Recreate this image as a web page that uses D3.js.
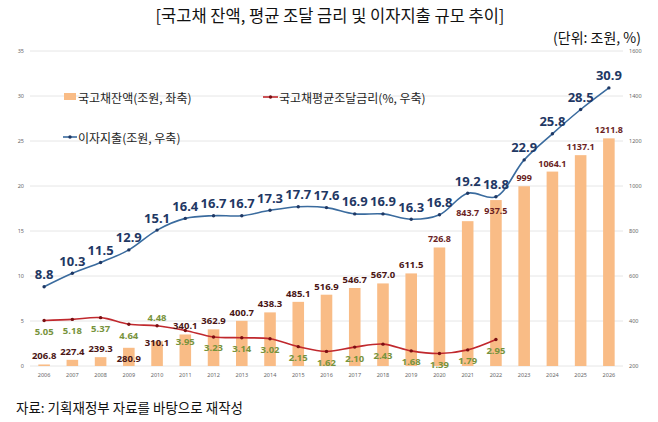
<!DOCTYPE html>
<html><head><meta charset="utf-8">
<script src="https://cdn.jsdelivr.net/npm/d3@7"></script>
<style>
html,body{margin:0;padding:0;background:#fff;}
svg{display:block;}
</style></head>
<body>
<svg id="c" width="658" height="422"></svg>
<script>
// ---- data ----
const years = ["2006","2007","2008","2009","2010","2011","2012","2013","2014","2015","2016","2017","2018","2019","2020","2021","2022","2023","2024","2025","2026"];
const balance = [206.8,227.4,239.3,280.9,310.1,340.1,362.9,400.7,438.3,485.1,516.9,546.7,567.0,611.5,726.8,843.7,937.5,999,1064.1,1137.1,1211.8];
const balanceText = ["206.8","227.4","239.3","280.9","310.1","340.1","362.9","400.7","438.3","485.1","516.9","546.7","567.0","611.5","726.8","843.7","937.5","999","1064.1","1137.1","1211.8"];
const rateYears = years.slice(0,17);
const rate = [5.05,5.18,5.37,4.64,4.48,3.95,3.23,3.14,3.02,2.15,1.62,2.10,2.43,1.68,1.39,1.79,2.95];
const interest = [8.8,10.3,11.5,12.9,15.1,16.4,16.7,16.7,17.3,17.7,17.6,16.9,16.9,16.3,16.8,19.2,18.8,22.9,25.8,28.5,30.9];
const leftTicks = [0,5,10,15,20,25,30,35];
const rightTicks = [200,400,600,800,1000,1200,1400,1600];
// label placement codes (not coordinates)
const balanceLabelPlace = ["a","a","a","in","mid","a","a","a","a","a","a","a","a","a","a","a","in","a","a","a","a"];
const rateLabelPlace = ["b","b","b","b","a","b","b","b","b","b","b","b","b","b","b","b","b"];

const title = "[국고채 잔액, 평균 조달 금리 및 이자지출 규모 추이]";
const unitText = "(단위: 조원, %)";
const sourceText = "자료: 기획재정부 자료를 바탕으로 재작성";
const legendNames = ["국고채잔액(조원, 좌축)","국고채평균조달금리(%, 우축)","이자지출(조원, 우축)"];

// ---- layout ----
const svg = d3.select("#c");
const L = 30, R = 623, T = 51, B = 366;
const x = d3.scaleBand().domain(years).range([L,R]).paddingInner(0.59).paddingOuter(0.295);
const cx = d => x(d) + x.bandwidth()/2;
const yL = d3.scaleLinear().domain([0,35]).range([B,T]);
const yR = d3.scaleLinear().domain([200,1600]).range([B,T]);

const KR = "'Noto Sans CJK KR','Noto Sans',sans-serif";
const NUM = "'Noto Sans','DejaVu Sans',sans-serif";

// title
svg.append("text").attr("x",330).attr("y",15).attr("text-anchor","middle")
  .attr("dominant-baseline","central").style("font-family",KR).style("font-size","16.5px")
  .style("font-weight","normal").attr("fill","#111").text(title);
svg.append("text").attr("x",641).attr("y",37).attr("text-anchor","end")
  .attr("dominant-baseline","central").style("font-family",KR).style("font-size","14px")
  .attr("fill","#111").text(unitText);
svg.append("text").attr("x",16).attr("y",407).attr("dominant-baseline","central")
  .style("font-family",KR).style("font-size","13.5px").attr("fill","#111").text(sourceText);

// grid
svg.append("g").selectAll("line").data(leftTicks).join("line")
  .attr("x1",L).attr("x2",R).attr("y1",d=>yL(d)).attr("y2",d=>yL(d))
  .attr("stroke","#E6E6E6").attr("stroke-width",1);

// axes
const ga = svg.append("g").attr("transform",`translate(${L},0)`)
  .call(d3.axisLeft(yL).tickValues(leftTicks).tickSize(0).tickPadding(6));
const gb = svg.append("g").attr("transform",`translate(${R},0)`)
  .call(d3.axisRight(yR).tickValues(rightTicks).tickFormat(d3.format("d")).tickSize(0).tickPadding(6));
const gx = svg.append("g").attr("transform",`translate(0,${B+3})`)
  .call(d3.axisBottom(x).tickSize(0).tickPadding(4));
[ga,gb,gx].forEach(g=>{
  g.select(".domain").remove();
  g.selectAll("text").style("font-family",NUM).style("font-size","5.5px").attr("fill","#666");
});

// bars
svg.append("g").selectAll("rect").data(balance).join("rect")
  .attr("x",(d,i)=>x(years[i])).attr("width",x.bandwidth())
  .attr("y",d=>yR(d)).attr("height",d=>B-yR(d)).attr("fill","#F9BC86");

// lines
const lineL = d3.line().curve(d3.curveCatmullRom.alpha(0.5));
svg.append("path").attr("d",lineL(rate.map((v,i)=>[cx(rateYears[i]),yL(v)])))
  .attr("fill","none").attr("stroke","#C0282D").attr("stroke-width",1.6);
svg.append("g").selectAll("circle").data(rate).join("circle")
  .attr("cx",(d,i)=>cx(rateYears[i])).attr("cy",d=>yL(d)).attr("r",1.7).attr("fill","#7A0F12");

svg.append("path").attr("d",lineL(interest.map((v,i)=>[cx(years[i]),yL(v)])))
  .attr("fill","none").attr("stroke","#3A6B9E").attr("stroke-width",1.6);
svg.append("g").selectAll("circle").data(interest).join("circle")
  .attr("cx",(d,i)=>cx(years[i])).attr("cy",d=>yL(d)).attr("r",1.7).attr("fill","#1F3864");

// labels: balance
svg.append("g").selectAll("text").data(balance).join("text")
  .attr("x",(d,i)=>cx(years[i]))
  .attr("y",(d,i)=>{const p=balanceLabelPlace[i]; const t=yR(d);
     return p==="a"? t-8.5 : p==="in"? t+10.5 : t+1;})
  .attr("text-anchor","middle").attr("dominant-baseline","central")
  .style("font-family",NUM).style("font-weight","bold")
  .style("font-size",(d,i)=> i>=14 ? "9px" : "9.5px")
  .attr("fill",(d,i)=> i>=14 ? "#6B1F1F" : "#4A1515")
  .text((d,i)=>balanceText[i]);

// labels: rate
svg.append("g").selectAll("text").data(rate).join("text")
  .attr("x",(d,i)=>cx(rateYears[i]))
  .attr("y",(d,i)=> rateLabelPlace[i]==="a" ? yL(d)-8 : yL(d)+11)
  .attr("text-anchor","middle").attr("dominant-baseline","central")
  .style("font-family",NUM).style("font-weight","bold").style("font-size","9.5px")
  .attr("fill","#77933C").text(d=>d.toFixed(2));

// labels: interest
svg.append("g").selectAll("text").data(interest).join("text")
  .attr("x",(d,i)=>cx(years[i])).attr("y",d=>yL(d)-12.5)
  .attr("text-anchor","middle").attr("dominant-baseline","central")
  .style("font-family",NUM).style("font-weight","bold").style("font-size","13px")
  .attr("fill","#1F3864").text(d=>d.toFixed(1));

// legend
const lg = svg.append("g").style("font-family",KR).style("font-size","12px");
lg.append("rect").attr("x",64).attr("y",93).attr("width",12).attr("height",7).attr("fill","#F9BC86");
lg.append("text").attr("x",78).attr("y",97).attr("dominant-baseline","central").attr("fill","#222").text(legendNames[0]);
lg.append("line").attr("x1",263).attr("x2",278).attr("y1",97).attr("y2",97).attr("stroke","#C0282D").attr("stroke-width",1.6);
lg.append("circle").attr("cx",270.5).attr("cy",97).attr("r",1.7).attr("fill","#7A0F12");
lg.append("text").attr("x",279).attr("y",97).attr("dominant-baseline","central").attr("fill","#222").text(legendNames[1]);
lg.append("line").attr("x1",63).attr("x2",77).attr("y1",137).attr("y2",137).attr("stroke","#3A6B9E").attr("stroke-width",1.6);
lg.append("circle").attr("cx",70).attr("cy",137).attr("r",1.7).attr("fill","#1F3864");
lg.append("text").attr("x",78).attr("y",137).attr("dominant-baseline","central").attr("fill","#222").text(legendNames[2]);
</script>
</body></html>
